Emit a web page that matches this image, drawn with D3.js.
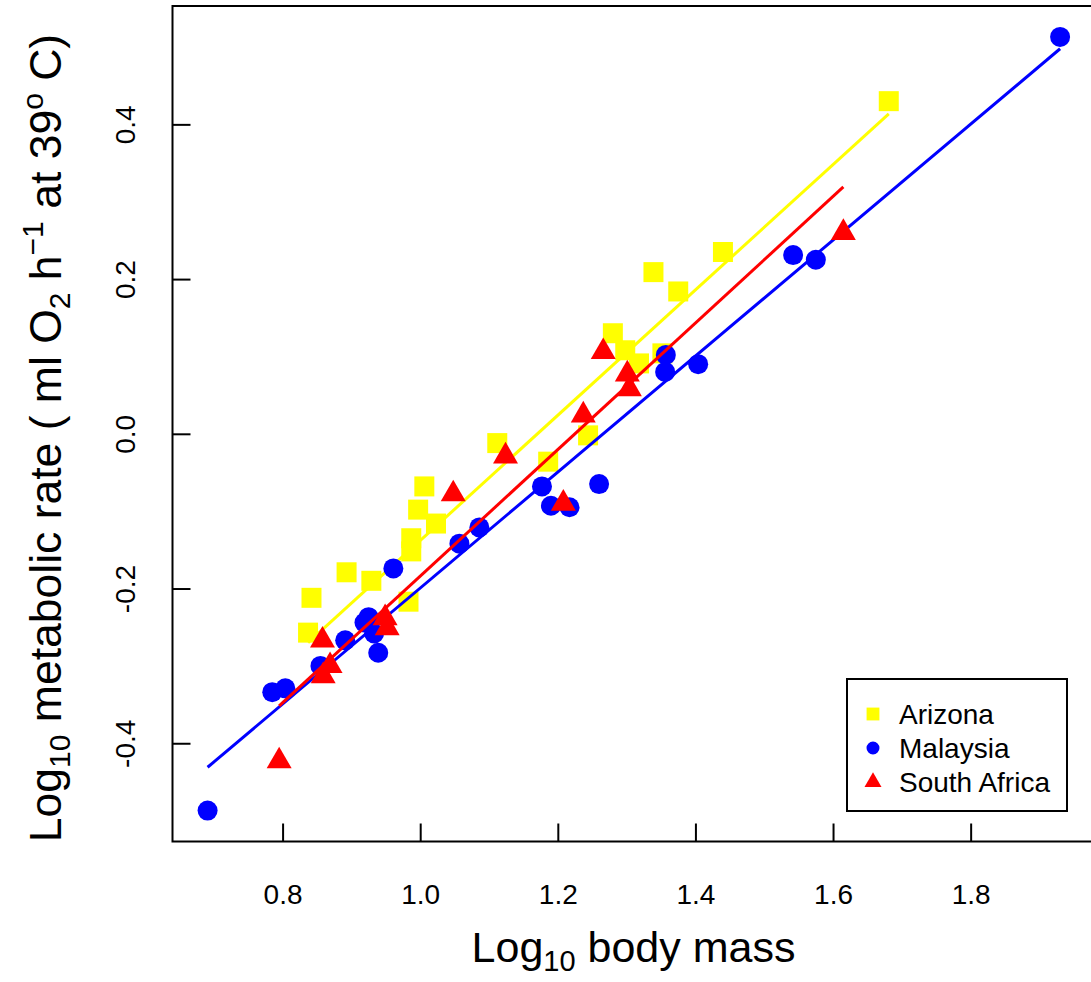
<!DOCTYPE html>
<html><head><meta charset="utf-8">
<script src="https://cdn.jsdelivr.net/npm/d3@7"></script>
<style>body{margin:0;background:#fff}svg{display:block}text{font-family:"Liberation Sans",Arial,sans-serif;fill:#000}</style>
</head><body>
<svg id="chart" width="1091" height="982"></svg>
<script>
// Data
const series = ["Arizona", "Malaysia", "South Africa"];
const arizonaX = [0.837,0.842,0.893,0.929,0.983,0.987,0.987,0.997,1.006,1.023,1.112,1.186,1.244,1.280,1.298,1.318,1.352,1.339,1.375,1.440,1.681];
const arizonaY = [-0.257,-0.212,-0.179,-0.190,-0.217,-0.135,-0.152,-0.098,-0.068,-0.116,-0.012,-0.036,-0.002,0.130,0.108,0.091,0.104,0.209,0.184,0.235,0.430];
const malaysiaX = [0.691,0.785,0.804,0.855,0.891,0.919,0.925,0.933,0.939,0.961,1.057,1.086,1.177,1.190,1.217,1.260,1.357,1.356,1.404,1.542,1.575,1.930];
const malaysiaY = [-0.487,-0.334,-0.329,-0.300,-0.267,-0.244,-0.237,-0.258,-0.283,-0.174,-0.142,-0.121,-0.068,-0.093,-0.095,-0.065,0.102,0.080,0.090,0.231,0.225,0.513];
const safricaX = [0.795,0.858,0.869,0.859,0.949,0.952,1.048,1.124,1.208,1.237,1.266,1.301,1.304,1.615];
const safricaY = [-0.423,-0.267,-0.300,-0.313,-0.238,-0.251,-0.078,-0.029,-0.090,0.024,0.106,0.077,0.058,0.260];
// fitted lines (intercept, slope)
const fitIntercept = [-0.948, -0.949, -1.002];
const fitSlope = [0.810, 0.7496, 0.818];
const xTicks = [0.8, 1.0, 1.2, 1.4, 1.6, 1.8];
const yTicks = [-0.4, -0.2, 0.0, 0.2, 0.4];
const colors = ["#FFFF00", "#0000FF", "#FF0000"];

const svg = d3.select("#chart");
const L = 172.5, R = 1094.5, T = 6, B = 841.5;
const x = d3.scaleLinear().domain([0.64, 1.98]).range([L, R]);
const y = d3.scaleLinear().domain([-0.527, 0.553]).range([B, T]);
const fmt = d => d.toFixed(1);

const groups = [
  {name: series[0], xs: arizonaX, ys: arizonaY, shape: d3.symbolSquare, size: 400, lsize: 165},
  {name: series[1], xs: malaysiaX, ys: malaysiaY, shape: d3.symbolCircle, size: Math.PI*100, lsize: Math.PI*42},
  {name: series[2], xs: safricaX, ys: safricaY, shape: d3.symbolTriangle, size: 270, lsize: 125}
];

groups.forEach((g, i) => {
  const pts = g.xs.map((v, k) => [v, g.ys[k]]);
  svg.append("g").selectAll("path").data(pts).join("path")
    .attr("d", d3.symbol().type(g.shape).size(g.size))
    .attr("transform", d => `translate(${x(d[0])},${y(d[1])})`)
    .attr("fill", colors[i]);
  const x0 = d3.min(g.xs), x1 = d3.max(g.xs);
  const f = v => fitIntercept[i] + fitSlope[i] * v;
  svg.append("line")
    .attr("x1", x(x0)).attr("y1", y(f(x0)))
    .attr("x2", x(x1)).attr("y2", y(f(x1)))
    .attr("stroke", colors[i]).attr("stroke-width", 3);
});

// box
svg.append("rect").attr("x", L).attr("y", T).attr("width", R - L).attr("height", B - T)
  .attr("fill", "none").attr("stroke", "#000").attr("stroke-width", 2);

// axes with inward ticks
const xAxis = svg.append("g").attr("transform", `translate(0,${B})`)
  .call(d3.axisBottom(x).tickValues(xTicks).tickSize(-18).tickFormat(fmt).tickPadding(0));
xAxis.select(".domain").remove();
xAxis.selectAll(".tick line").attr("stroke", "#000").attr("stroke-width", 2);
xAxis.selectAll(".tick text").attr("y", 62).attr("dy", 0).attr("font-size", 28)
  .attr("font-family", "Liberation Sans, Arial, sans-serif");

const yAxis = svg.append("g").attr("transform", `translate(${L},0)`)
  .call(d3.axisLeft(y).tickValues(yTicks).tickSize(-18).tickFormat(fmt).tickPadding(0));
yAxis.select(".domain").remove();
yAxis.selectAll(".tick line").attr("stroke", "#000").attr("stroke-width", 2);
yAxis.selectAll(".tick text")
  .attr("x", null).attr("dy", null)
  .attr("transform", "translate(-38,0) rotate(-90)")
  .attr("text-anchor", "middle").attr("font-size", 28)
  .attr("font-family", "Liberation Sans, Arial, sans-serif");

// axis titles
const xt = svg.append("text").attr("x", (L + R) / 2).attr("y", 962)
  .attr("text-anchor", "middle").attr("font-size", 43);
xt.append("tspan").text("Log");
xt.append("tspan").attr("font-size", 29).attr("dy", 9).text("10");
xt.append("tspan").attr("dy", -9).text(" body mass");

const yt = svg.append("text").attr("transform", `translate(61,438) rotate(-90)`)
  .attr("text-anchor", "middle").attr("font-size", 44.5);
yt.append("tspan").text("Log");
yt.append("tspan").attr("font-size", 30).attr("dy", 9).text("10");
yt.append("tspan").attr("dy", -9).text(" metabolic rate ( ml O");
yt.append("tspan").attr("font-size", 30).attr("dy", 9).text("2");
yt.append("tspan").attr("dy", -9).text(" h");
yt.append("tspan").attr("font-size", 30).attr("dy", -18).text("\u22121");
yt.append("tspan").attr("dy", 18).text(" at 39");
yt.append("tspan").attr("font-size", 30).attr("dy", -18).text("o");
yt.append("tspan").attr("dy", 18).text(" C)");

// legend
const lg = svg.append("g");
lg.append("rect").attr("x", 847).attr("y", 679).attr("width", 220).attr("height", 132)
  .attr("fill", "#fff").attr("stroke", "#000").attr("stroke-width", 2);
groups.forEach((g, i) => {
  const cy = 714 + i * 34;
  lg.append("path").attr("d", d3.symbol().type(g.shape).size(g.lsize))
    .attr("transform", `translate(873,${cy})`).attr("fill", colors[i]);
  lg.append("text").attr("x", 899).attr("y", cy + 10).attr("font-size", 28).text(g.name);
});
</script>
</body></html>
